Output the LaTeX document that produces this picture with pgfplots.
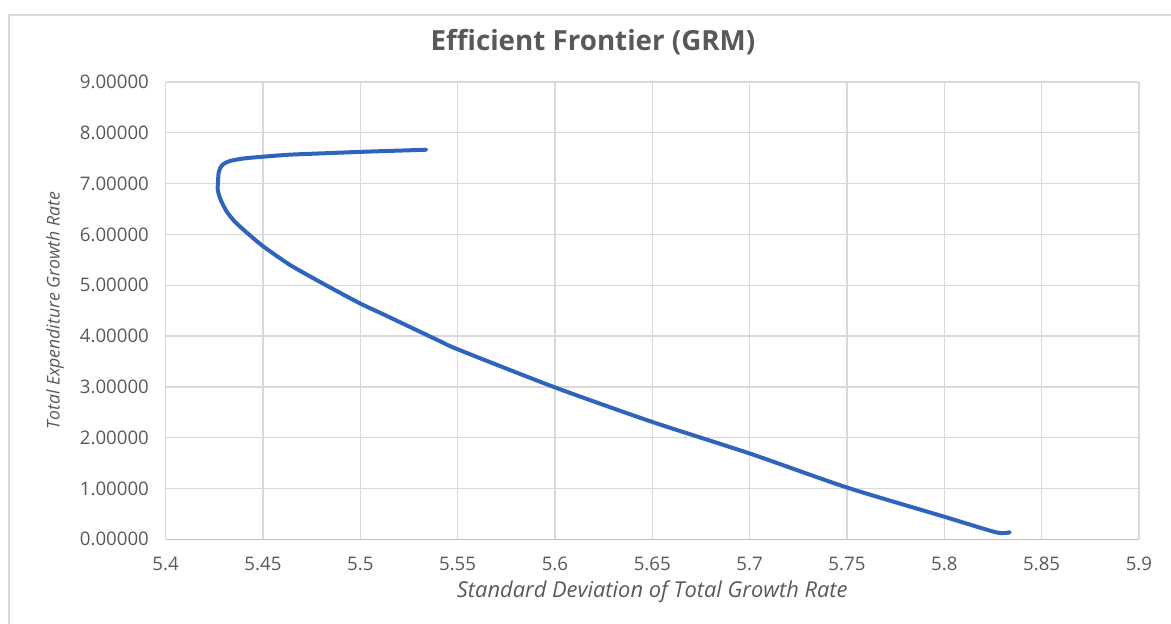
\documentclass[border=0pt]{standalone}
\usepackage{pgfplots}
\pgfplotsset{compat=1.18}
\usepackage{fontspec}
\setmainfont{Open Sans}
\definecolor{txtgray}{HTML}{595959}
\definecolor{gridgray}{HTML}{D9D9D9}
\definecolor{axgray}{HTML}{BFBFBF}
\definecolor{lineblue}{HTML}{2E64BE}

\pgfplotstableread{
sd     gr
5.5337 7.667
5.5200 7.650
5.5000 7.625
5.4800 7.595
5.4639 7.570
5.4500 7.530
5.4400 7.495
5.4330 7.445
5.4295 7.380
5.4280 7.300
5.4272 7.200
5.4270 7.080
5.4268 6.880
5.4283 6.680
5.4314 6.450
5.4356 6.250
5.4416 6.040
5.4500 5.770
5.4639 5.400
5.4810 5.030
5.5000 4.640
5.5101 4.460
5.5200 4.280
5.5409 3.900
5.5500 3.740
5.6000 2.990
5.6500 2.310
5.7000 1.690
5.7500 1.020
5.8000 0.445
5.8266 0.138
5.8335 0.138
}\frontier

\begin{document}
\begin{tikzpicture}
\useasboundingbox (-124.2pt,-63.5pt) rectangle (754.05pt,404.5pt);
% chart frame (cropped at right and bottom)
\draw[gridgray,line width=1pt] (-117.45pt,-70pt) -- (-117.45pt,393.2pt) -- (760pt,393.2pt);
\begin{axis}[
  at={(0,0)},anchor=south west,
  scale only axis,width=730pt,height=343pt,
  xmin=5.4,xmax=5.9,ymin=0,ymax=9,
  xtick={5.4,5.45,...,5.9},ytick={0,1,...,9},
  xticklabels={5.4,5.45,5.5,5.55,5.6,5.65,5.7,5.75,5.8,5.85,5.9},
  yticklabel={\pgfmathprintnumber[fixed,zerofill,precision=5]{\tick}},
  /pgf/number format/assume math mode=true,
  grid=major,major grid style={gridgray,line width=1pt},
  axis line style={draw=none},
  tick style={draw=none},
  ticklabel style={font=\fontsize{14}{16}\selectfont,text=txtgray},
  xticklabel style={yshift=-10pt},
  yticklabel style={xshift=-9pt},
  xlabel={\itshape Standard Deviation of Total Growth Rate},
  ylabel={\itshape Total Expenditure Growth Rate},
  label style={text=txtgray},
  xlabel style={font=\fontsize{16.4}{18}\selectfont,at={(axis description cs:0.5,-0.115)},anchor=center},
  ylabel style={font=\fontsize{13.2}{15}\selectfont,at={(axis description cs:-0.1137,0.5)},anchor=center},
  clip=false,
]
\draw[axgray,line width=1pt] (axis cs:5.4,0) -- (axis cs:5.9,0);
\addplot[lineblue,line width=3pt,line join=round,line cap=round,mark=none,smooth,tension=0.4] table[x=sd,y=gr] {\frontier};
\end{axis}
\node[text=txtgray,font=\bfseries\fontsize{20.8}{24}\selectfont] at (320.5pt,373pt) {Efficient Frontier (GRM)};
\end{tikzpicture}
\end{document}
